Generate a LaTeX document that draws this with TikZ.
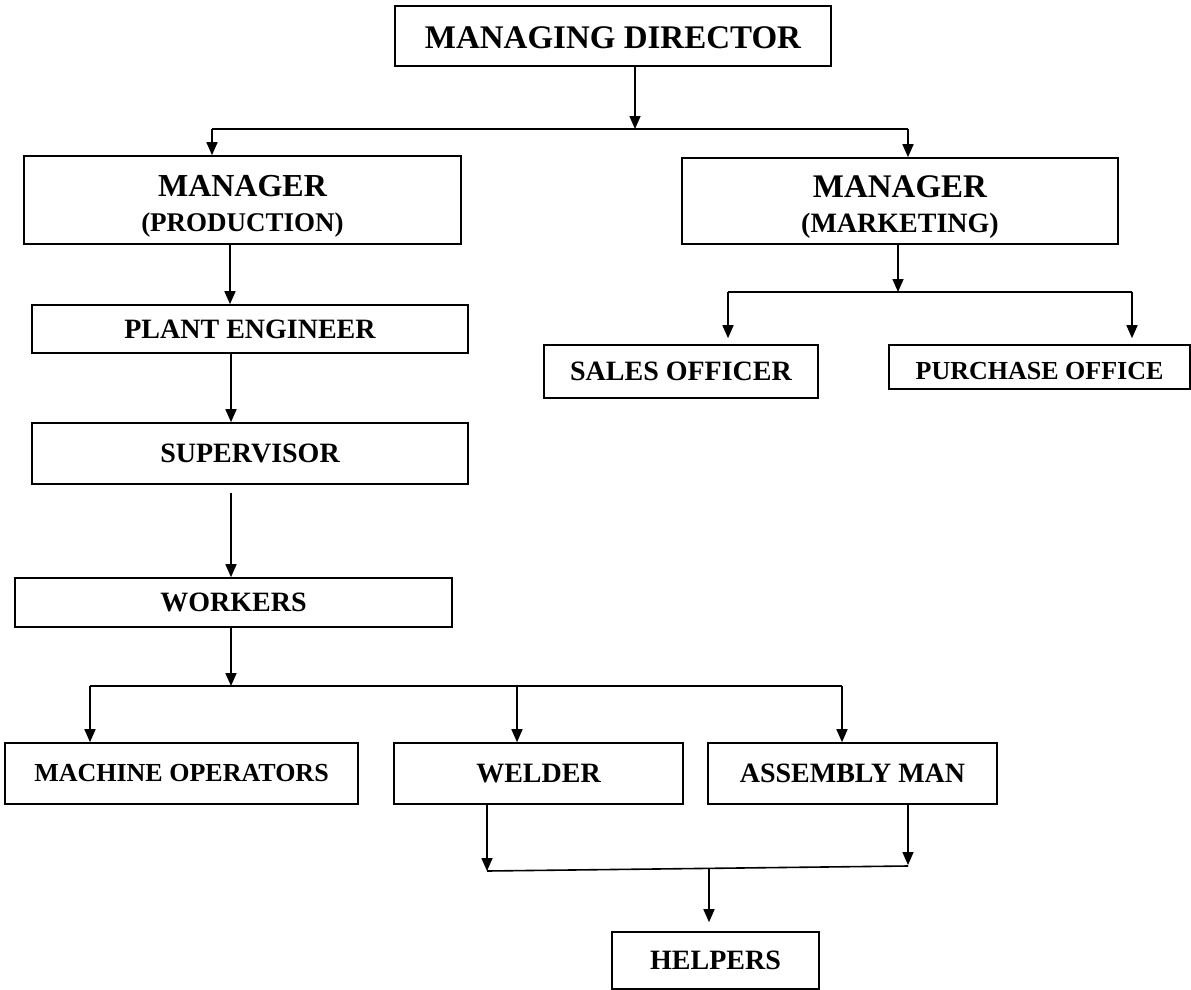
\documentclass[tikz,border=0pt]{standalone}
\usepackage{fontspec}
\setmainfont{Liberation Serif}
\usetikzlibrary{arrows.meta}
\begin{document}
\begin{tikzpicture}[x=1pt,y=-1pt,
  box/.style={draw=black, line width=1.6pt, inner sep=0pt, font=\bfseries, align=center},
  arr/.style={line width=1.6pt, -{Triangle[length=13pt,width=11pt]}},
  ln/.style={line width=1.6pt}]
\useasboundingbox (0,0) rectangle (1191,990);
\fill[white] (0,0) rectangle (1191,990);

% boxes
\node[box, minimum width=436pt, minimum height=60pt] (md) at (613,36) {\fontsize{33}{38}\selectfont\rule{0pt}{26pt}MANAGING DIRECTOR};
\node[box, minimum width=437pt, minimum height=88pt, font=\bfseries\fontsize{27}{35}\selectfont] (mp) at (242.5,200) {{\fontsize{32}{35}\selectfont\rule{0pt}{34pt}MANAGER}\\{\fontsize{27}{35}\selectfont (PRODUCTION)}};
\node[box, minimum width=436pt, minimum height=86pt, font=\bfseries\fontsize{28}{35}\selectfont] (mm) at (900,201) {{\fontsize{33}{35}\selectfont\rule{0pt}{34pt}MANAGER}\\{\fontsize{28}{35}\selectfont (MARKETING)}};
\node[box, minimum width=436pt, minimum height=48pt] (pe) at (250,329) {\fontsize{28}{32}\selectfont PLANT ENGINEER};
\node[box, minimum width=436pt, minimum height=61pt] (sup) at (250,453.5) {\fontsize{28}{32}\selectfont SUPERVISOR};
\node[box, minimum width=437pt, minimum height=49pt] (wrk) at (233.5,602.5) {\fontsize{28}{32}\selectfont WORKERS};
\node[box, minimum width=353pt, minimum height=61pt] (mo) at (181.5,773.5) {\fontsize{26}{30}\selectfont MACHINE OPERATORS};
\node[box, minimum width=289pt, minimum height=61pt] (wel) at (538.5,773.5) {\fontsize{28}{32}\selectfont WELDER};
\node[box, minimum width=289pt, minimum height=61pt] (asm) at (852.5,773.5) {\fontsize{28}{32}\selectfont ASSEMBLY MAN};
\node[box, minimum width=207pt, minimum height=57pt] (hel) at (715.5,960.5) {\fontsize{28}{32}\selectfont HELPERS};
\node[box, minimum width=274pt, minimum height=53pt] (so) at (681,371.5) {\fontsize{28}{32}\selectfont SALES OFFICER};
\node[box, minimum width=301pt, minimum height=44pt] (po) at (1039.5,367) {\fontsize{26}{30}\selectfont\rule{0pt}{26pt}PURCHASE OFFICE};

% junction coordinates
\coordinate (j1) at (635,129);
\coordinate (j1l) at (212,129);
\coordinate (j1r) at (908,129);
\coordinate (x230) at (230,0);
\coordinate (x231) at (231,0);
\coordinate (j2) at (898,292);
\coordinate (j2l) at (728,292);
\coordinate (j2r) at (1132,292);
\coordinate (j3) at (231,686);
\coordinate (j3a) at (90,686);
\coordinate (j3b) at (517,686);
\coordinate (j3c) at (842,686);
\coordinate (j4l) at (487,871);
\coordinate (j4r) at (908,866);
\coordinate (j4m) at (709,869);

% top level
\draw[arr] (md.south -| j1) -- (j1);
\draw[ln] (j1l) -- (j1r);
\draw[arr] (j1l) -- (j1l |- mp.north);
\draw[arr] (j1r) -- (j1r |- mm.north);

% production chain
\draw[arr] (mp.south -| x230) -- (pe.north -| x230);
\draw[arr] (pe.south -| x231) -- (sup.north -| x231);
\draw[arr, shorten <=8pt] (sup.south -| x231) -- (wrk.north -| x231);
\draw[arr] (wrk.south -| j3) -- (j3);
\draw[ln] (j3a) -- (j3c);
\draw[arr] (j3a) -- (j3a |- mo.north);
\draw[arr] (j3b) -- (j3b |- wel.north);
\draw[arr] (j3c) -- (j3c |- asm.north);

% welder / assembly to helpers
\draw[arr] (wel.south -| j4l) -- (j4l);
\draw[arr] (asm.south -| j4r) -- ([yshift=1pt]j4r);
\draw[ln] (j4l) -- (j4r);
\draw[arr, shorten >=9pt] (j4m) -- (j4m |- hel.north);

% marketing
\draw[arr] (mm.south -| j2) -- (j2);
\draw[ln] (j2l) -- (j2r);
\draw[arr, shorten >=6pt] (j2l) -- (j2l |- so.north);
\draw[arr, shorten >=6pt] (j2r) -- (j2r |- po.north);
\end{tikzpicture}
\end{document}
